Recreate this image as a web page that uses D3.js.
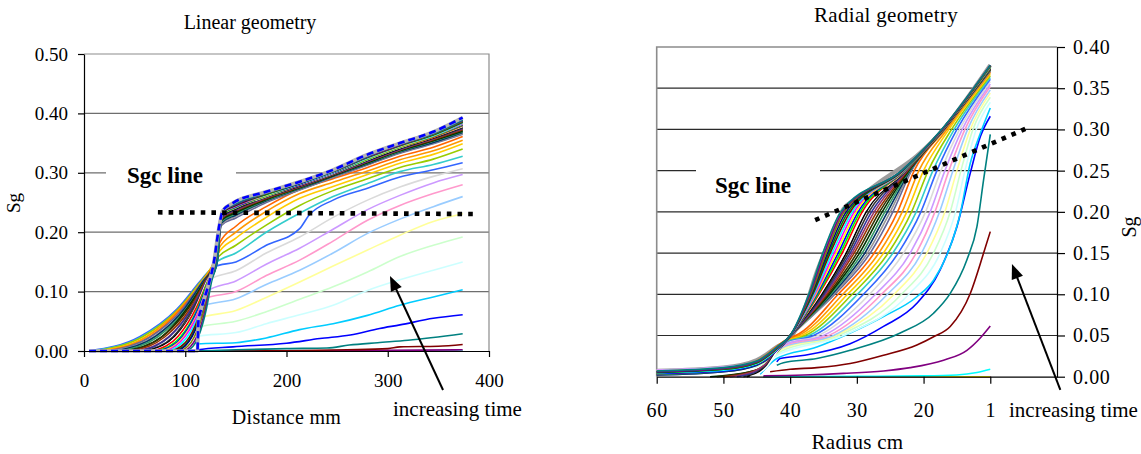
<!DOCTYPE html>
<html>
<head>
<meta charset="utf-8">
<script src="https://cdn.jsdelivr.net/npm/d3@7"></script>
<style>
  body { margin: 0; background: #fff; }
  svg { display: block; }
  svg text { font-family: 'Liberation Serif', 'Times New Roman', Tinos, 'DejaVu Serif', serif; fill: #000; }
</style>
</head>
<body>
<svg id="chart" width="1141" height="454"></svg>
<script>
// Automatic series colours, one per time step (series 1 first)
const seriesColors = ["#000080","#FF00FF","#FFFF00","#00FFFF","#800080","#800000","#008080","#0000FF",
  "#00CCFF","#CCFFFF","#CCFFCC","#FFFF99","#99CCFF","#FF99CC","#CC99FF","#DADADA",
  "#3366FF","#33CCCC","#99CC00","#FFCC00","#FF9900","#FF6600","#666699","#969696",
  "#003366","#339966","#003300","#333300","#993300","#993366","#333399","#333333",
  "#000000","#FFFFFF","#FF0000","#00FF00","#0000FF","#FFFF00","#FF00FF","#00FFFF",
  "#800000","#008000","#000080","#808000","#800080","#008080"];

// ---------- Linear geometry: Sg vs distance (mm), one [distance, Sg] list per time step ----------
const linearProfiles = [
  [[112,0],[374,0]],
  [[112,0],[374,0]],
  [[112,0],[374,0]],
  [[112,0],[374,0]],
  [[112,0],[250,0.0005],[300,0.001],[374,0.002]],
  [[112,0],[200,0.0005],[260,0.002],[300,0.004],[312,0.007],[350,0.008],[374,0.011]],
  [[112,0],[150,0.002],[200,0.004],[240,0.005],[262,0.010],[290,0.014],[320,0.018],[374,0.029]],
  [[112,0],[112.5,0.002],[147,0.007],[200,0.013],[233,0.021],[263,0.027],[292,0.038],[312,0.044],[345,0.055],[374,0.061]],
  [[112,0],[112.5,0.012],[150,0.014],[180,0.022],[213,0.036],[246,0.046],[280,0.060],[312,0.077],[345,0.091],[374,0.103]],
  [[112,0],[112.8,0.025],[150,0.031],[180,0.046],[213,0.061],[246,0.077],[280,0.102],[312,0.120],[345,0.136],[374,0.150]],
  [[112,0],[113,0.040],[150,0.050],[180,0.066],[213,0.087],[246,0.108],[280,0.133],[312,0.159],[345,0.178],[374,0.192]],
  [[112,0],[113.2,0.055],[150,0.068],[180,0.090],[213,0.116],[246,0.143],[280,0.170],[312,0.195],[345,0.218],[374,0.231]],
  [[112,0],[113,0.05],[116,0.075],[150,0.088],[180,0.112],[213,0.136],[246,0.165],[280,0.198],[312,0.222],[345,0.243],[374,0.260]],
  [[112,0],[113,0.05],[119,0.088],[150,0.100],[180,0.127],[213,0.153],[246,0.185],[280,0.220],[312,0.245],[345,0.265],[374,0.280]],
  [[112,0],[113,0.05],[121,0.100],[150,0.118],[180,0.146],[213,0.173],[246,0.205],[280,0.238],[312,0.262],[345,0.283],[374,0.297]],
  [[112,0],[113,0.05],[124,0.120],[150,0.135],[180,0.165],[213,0.192],[246,0.225],[280,0.254],[312,0.276],[345,0.294],[374,0.307]],
  [[5,0],[55,0.024],[92,0.071],[114,0.116],[122,0.132],[129,0.142],[150,0.150],[180,0.178],[213,0.206],[222,0.228],[246,0.254],[280,0.274],[312,0.293],[345,0.305],[374,0.317]],
  [[8,0],[56,0.023],[93,0.070],[115,0.115],[123,0.133],[130,0.148],[150,0.165],[180,0.200],[213,0.232],[246,0.260],[280,0.282],[312,0.302],[345,0.314],[374,0.328]],
  [[11,0],[58,0.024],[94,0.072],[115,0.116],[124,0.136],[131,0.155],[150,0.178],[180,0.212],[213,0.245],[246,0.270],[280,0.290],[312,0.309],[345,0.323],[374,0.340]],
  [[14,0],[60,0.023],[95,0.071],[115,0.114],[125,0.138],[132,0.163],[150,0.190],[180,0.225],[213,0.257],[246,0.277],[280,0.297],[312,0.316],[345,0.331],[374,0.349]],
  [[17,0],[62,0.024],[95,0.072],[116,0.115],[126,0.141],[133,0.172],[150,0.200],[180,0.235],[213,0.265],[246,0.284],[280,0.303],[312,0.322],[345,0.337],[374,0.355]],
  [[20,0],[64,0.023],[96,0.071],[116,0.114],[127,0.143],[134,0.182],[150,0.210],[180,0.243],[213,0.272],[246,0.290],[280,0.309],[312,0.328],[345,0.343],[374,0.361]],
  [[24,0],[66,0.024],[98,0.072],[116,0.115],[129,0.146],[136,0.212],[150,0.224],[180,0.250],[213,0.271],[246,0.292],[280,0.313],[312,0.333],[345,0.349],[374,0.365]],
  [[28,0],[68,0.023],[99,0.070],[117,0.114],[129,0.147],[136,0.214],[150,0.227],[180,0.252],[213,0.272],[246,0.293],[280,0.314],[312,0.334],[345,0.350],[374,0.366]],
  [[32,0],[71,0.025],[100,0.073],[117,0.116],[129,0.148],[136,0.216],[150,0.229],[180,0.253],[213,0.273],[246,0.294],[280,0.315],[312,0.335],[345,0.351],[374,0.368]],
  [[36,0],[73,0.024],[101,0.071],[118,0.115],[129.5,0.149],[136,0.218],[150,0.231],[180,0.254],[213,0.274],[246,0.295],[280,0.316],[312,0.336],[345,0.353],[374,0.369]],
  [[40,0],[76,0.023],[102,0.072],[118,0.114],[129.5,0.148],[136,0.220],[150,0.233],[180,0.255],[213,0.275],[246,0.295],[280,0.317],[312,0.337],[345,0.354],[374,0.370]],
  [[44,0],[78,0.025],[104,0.074],[119,0.117],[129.5,0.150],[136,0.222],[150,0.235],[180,0.256],[213,0.276],[246,0.296],[280,0.318],[312,0.338],[345,0.355],[374,0.372]],
  [[48,0],[80,0.024],[105,0.072],[119,0.115],[130,0.150],[136,0.223],[150,0.236],[180,0.257],[213,0.276],[246,0.297],[280,0.319],[312,0.339],[345,0.356],[374,0.373]],
  [[52,0],[83,0.023],[106,0.071],[120,0.116],[130,0.151],[136,0.224],[150,0.237],[180,0.258],[213,0.277],[246,0.297],[280,0.319],[312,0.339],[345,0.357],[374,0.374]],
  [[56,0],[85,0.025],[107,0.073],[120,0.115],[130,0.150],[136,0.225],[150,0.238],[180,0.259],[213,0.277],[246,0.298],[280,0.320],[312,0.340],[345,0.358],[374,0.375]],
  [[60,0],[88,0.024],[108,0.072],[121,0.117],[130,0.151],[136,0.226],[150,0.239],[180,0.259],[213,0.278],[246,0.298],[280,0.321],[312,0.341],[345,0.358],[374,0.376]],
  [[63,0],[89,0.023],[109,0.070],[121,0.115],[130.5,0.152],[136,0.227],[150,0.240],[180,0.260],[213,0.278],[246,0.299],[280,0.321],[312,0.341],[345,0.359],[374,0.377]],
  [[66,0],[91,0.024],[110,0.072],[121,0.116],[130.5,0.151],[136,0.228],[150,0.241],[180,0.260],[213,0.279],[246,0.299],[280,0.322],[312,0.342],[345,0.360],[374,0.378]],
  [[69,0],[93,0.025],[111,0.073],[122,0.117],[130.5,0.153],[136,0.229],[150,0.242],[180,0.261],[213,0.279],[246,0.300],[280,0.323],[312,0.343],[345,0.360],[374,0.379]],
  [[72,0],[95,0.023],[112,0.071],[122,0.116],[131,0.152],[136,0.229],[150,0.242],[180,0.261],[213,0.280],[246,0.300],[280,0.323],[312,0.343],[345,0.361],[374,0.380]],
  [[75,0],[97,0.024],[113,0.072],[123,0.117],[131,0.153],[136,0.230],[150,0.243],[180,0.262],[213,0.280],[246,0.300],[280,0.324],[312,0.344],[345,0.362],[374,0.381]],
  [[78,0],[98,0.023],[114,0.071],[123,0.116],[131,0.154],[136,0.230],[150,0.244],[180,0.262],[213,0.281],[246,0.301],[280,0.324],[312,0.344],[345,0.362],[374,0.382]],
  [[81,0],[100,0.025],[115,0.073],[123,0.118],[131,0.153],[136,0.231],[150,0.244],[180,0.263],[213,0.281],[246,0.301],[280,0.325],[312,0.345],[345,0.363],[374,0.383]],
  [[84,0],[102,0.024],[116,0.072],[124,0.117],[131.5,0.154],[136,0.231],[150,0.245],[180,0.263],[213,0.281],[246,0.301],[280,0.325],[312,0.345],[345,0.363],[374,0.384]],
  [[87,0],[104,0.023],[116,0.070],[124,0.116],[131.5,0.155],[136,0.232],[150,0.245],[180,0.264],[213,0.282],[246,0.302],[280,0.326],[312,0.346],[345,0.364],[374,0.385]],
  [[90,0],[106,0.024],[117,0.071],[124,0.117],[131.5,0.154],[136,0.232],[150,0.246],[180,0.264],[213,0.282],[246,0.302],[280,0.326],[312,0.346],[345,0.364],[374,0.386]],
  [[93,0],[107,0.025],[118,0.073],[125,0.118],[132,0.155],[136,0.233],[150,0.246],[180,0.265],[213,0.282],[246,0.302],[280,0.327],[312,0.347],[345,0.365],[374,0.387]],
  [[96,0],[109,0.024],[119,0.072],[125,0.117],[132,0.156],[136,0.233],[150,0.247],[180,0.265],[213,0.283],[246,0.302],[280,0.327],[312,0.347],[345,0.365],[374,0.387]],
  [[99,0],[111,0.023],[120,0.071],[125,0.116],[132,0.155],[136,0.234],[150,0.247],[180,0.266],[213,0.283],[246,0.303],[280,0.327],[312,0.347],[345,0.366],[374,0.388]],
  [[102,0],[113,0.024],[121,0.072],[126,0.117],[132,0.156],[136,0.234],[150,0.248],[180,0.266],[213,0.283],[246,0.303],[280,0.328],[312,0.348],[345,0.366],[374,0.389]]
];
// Final (latest) profile, drawn dashed on top
const linearFinal = [[5,0],[112,0],[113,0.05],[116,0.072],[121,0.1],[128,0.147],[134,0.215],[137,0.236],[147,0.249],[180,0.268],[213,0.285],[246,0.305],[279,0.330],[312,0.350],[345,0.369],[374,0.393]];
const linearXTicks = [0, 100, 200, 300, 400];
const linearYTicks = [0, 0.1, 0.2, 0.3, 0.4, 0.5];
const linearGrid = [0.1, 0.2, 0.3, 0.4];
const linearSgc = [[73, 0.2335], [384, 0.2306]];
const linearArrow = [[354.6, -0.0657], [302.2, 0.1263]];

// ---------- Radial geometry: Sg vs radius (cm), one [radius, Sg] list per time step ----------
const radialProfiles = [
  [[44,0],[10,0]],
  [[44,0],[10,0]],
  [[44,0],[10,0]],
  [[44,0],[30,0.0005],[20,0.001],[15,0.002],[12,0.005],[10,0.009]],
  [[44,0.001],[38,0.002],[32,0.004],[26,0.007],[22,0.011],[17,0.020],[13.5,0.032],[11.5,0.047],[10,0.0615]],
  [[43,0.006],[40,0.009],[36,0.011],[31,0.016],[26,0.026],[21,0.0385],[18.5,0.0485],[16,0.061],[13,0.101],[11,0.150],[10,0.176]],
  [[42,0.014],[41,0.017],[36,0.022],[31,0.032],[23.5,0.053],[18.5,0.077],[16,0.101],[13.5,0.142],[12,0.182],[11,0.239],[10,0.294]],
  [[42,0.018],[41.5,0.022],[37.8,0.026],[31,0.040],[26,0.061],[21,0.089],[17.5,0.130],[15,0.182],[13,0.247],[11.5,0.291],[10,0.316]],
  [[44.5,0.003],[42,0.022],[36,0.036],[31,0.053],[26,0.073],[21,0.097],[18.5,0.117],[16,0.158],[14.5,0.198],[13,0.259],[11.5,0.295],[10,0.326]],
  [[60,0.006],[50,0.008],[45,0.012],[41.5,0.028],[32.0,0.05],[22.2,0.10],[17.5,0.15],[15.2,0.20],[13.8,0.25],[12.1,0.30],[10,0.333]],
  [[60,0.007],[50,0.009],[45,0.013],[41.3,0.031],[32.7,0.05],[23.3,0.10],[18.5,0.15],[16.0,0.20],[14.4,0.25],[12.6,0.30],[10,0.339]],
  [[60,0.007],[50,0.010],[45,0.014],[41.1,0.034],[33.1,0.05],[24.4,0.10],[19.5,0.15],[16.8,0.20],[15.0,0.25],[13.0,0.30],[10,0.344]],
  [[60,0.008],[50,0.011],[45,0.015],[41.0,0.036],[33.5,0.05],[25.4,0.10],[20.3,0.15],[17.6,0.20],[15.6,0.25],[13.4,0.30],[10,0.348]],
  [[60,0.008],[50,0.011],[45,0.016],[40.8,0.038],[34.2,0.05],[26.3,0.10],[21.1,0.15],[18.3,0.20],[16.2,0.25],[13.8,0.30],[10,0.352]],
  [[60,0.008],[50,0.012],[45,0.017],[40.6,0.040],[35.0,0.05],[27.2,0.10],[22.0,0.15],[19.0,0.20],[16.8,0.25],[14.2,0.30],[10,0.355]],
  [[60,0.007],[50,0.011],[45,0.017],[40.5,0.042],[35.8,0.05],[28.1,0.10],[23.0,0.15],[19.7,0.20],[17.4,0.25],[14.6,0.30],[10,0.358]],
  [[60,0.006],[50,0.010],[45,0.016],[40.4,0.043],[36.5,0.05],[29.0,0.10],[23.8,0.15],[20.4,0.20],[18.0,0.25],[15.0,0.30],[10,0.361]],
  [[60,0.005],[50,0.010],[45,0.017],[40.3,0.044],[37.2,0.05],[29.9,0.10],[24.6,0.15],[21.1,0.20],[18.6,0.25],[15.4,0.30],[10,0.363]],
  [[60,0.005],[50,0.009],[45,0.017],[40.2,0.045],[37.8,0.05],[30.7,0.10],[25.3,0.15],[21.8,0.20],[19.3,0.25],[15.8,0.30],[10,0.365]],
  [[60,0.004],[50,0.009],[45,0.018],[40.1,0.046],[38.3,0.05],[31.4,0.10],[26.0,0.15],[22.5,0.20],[20.0,0.25],[16.2,0.30],[10,0.367]],
  [[60,0.004],[50,0.008],[45,0.018],[40.0,0.047],[38.8,0.05],[32.1,0.10],[26.7,0.15],[23.2,0.20],[20.7,0.25],[16.5,0.30],[10,0.369]],
  [[60,0.003],[50,0.008],[45,0.019],[39.9,0.048],[39.2,0.05],[32.8,0.10],[27.4,0.15],[23.9,0.20],[21.4,0.25],[16.8,0.30],[10,0.370]],
  [[60,0.002],[50,0.006],[45,0.014],[42,0.030],[40,0.048],[33.3,0.10],[28.0,0.15],[24.6,0.20],[21.8,0.25],[16.9,0.30],[10,0.371]],
  [[60,0.003],[50,0.007],[45,0.015],[42,0.031],[40,0.048],[33.5,0.10],[28.4,0.15],[25.0,0.20],[21.9,0.25],[16.9,0.30],[10,0.371]],
  [[60,0.002],[50,0.006],[45,0.014],[42,0.030],[40,0.049],[33.7,0.10],[28.8,0.15],[25.4,0.20],[22.0,0.25],[16.95,0.30],[10,0.372]],
  [[60,0.003],[50,0.007],[45,0.015],[42,0.031],[40,0.049],[33.9,0.10],[29.2,0.15],[25.8,0.20],[22.1,0.25],[16.95,0.30],[10,0.372]],
  [[52,0],[46,0.006],[44,0.012],[42,0.030],[40,0.049],[34.1,0.10],[29.6,0.15],[26.2,0.20],[22.2,0.25],[17.0,0.30],[10,0.373]],
  [[51,0],[46,0.006],[44,0.012],[42,0.031],[40,0.049],[34.3,0.10],[30.0,0.15],[26.6,0.20],[22.3,0.25],[17.0,0.30],[10,0.373]],
  [[50,0],[46,0.005],[44,0.013],[42,0.031],[40,0.049],[34.5,0.10],[30.4,0.15],[27.0,0.20],[22.4,0.25],[17.0,0.30],[10,0.373]],
  [[49,0],[45.5,0.006],[44,0.013],[42,0.031],[40,0.049],[34.7,0.10],[30.7,0.15],[27.4,0.20],[22.5,0.25],[17.05,0.30],[10,0.374]],
  [[48,0],[45,0.006],[43.5,0.014],[42,0.032],[40,0.049],[34.9,0.10],[31.0,0.15],[27.8,0.20],[22.6,0.25],[17.05,0.30],[10,0.374]],
  [[47,0],[45,0.005],[43.5,0.014],[42,0.032],[40,0.050],[35.1,0.10],[31.3,0.15],[28.2,0.20],[22.65,0.25],[17.05,0.30],[10,0.374]],
  [[46.5,0],[45,0.004],[43.5,0.013],[42,0.031],[40,0.050],[35.3,0.10],[31.6,0.15],[28.6,0.20],[22.7,0.25],[17.1,0.30],[10,0.375]],
  [[46,0],[44.5,0.005],[43.5,0.012],[42,0.030],[40,0.050],[35.5,0.10],[31.9,0.15],[28.9,0.20],[22.75,0.25],[17.1,0.30],[10,0.375]],
  [[60,0.004],[50,0.008],[45,0.016],[42,0.032],[40,0.049],[35.7,0.10],[32.2,0.15],[29.2,0.20],[22.8,0.25],[17.1,0.30],[10,0.375]],
  [[60,0.005],[50,0.008],[45,0.016],[42,0.033],[40,0.049],[35.85,0.10],[32.5,0.15],[29.5,0.20],[22.85,0.25],[17.1,0.30],[10,0.375]],
  [[60,0.004],[50,0.007],[45,0.015],[42,0.032],[40,0.049],[36.0,0.10],[32.8,0.15],[29.8,0.20],[22.9,0.25],[17.15,0.30],[10,0.376]],
  [[60,0.005],[50,0.009],[45,0.016],[42,0.033],[40,0.050],[36.15,0.10],[33.1,0.15],[30.1,0.20],[22.95,0.25],[17.15,0.30],[10,0.376]],
  [[60,0.006],[50,0.009],[45,0.017],[42,0.034],[40,0.050],[36.3,0.10],[33.4,0.15],[30.4,0.20],[23.0,0.25],[17.15,0.30],[10,0.376]],
  [[60,0.005],[50,0.008],[45,0.016],[42,0.033],[40,0.050],[36.45,0.10],[33.7,0.15],[30.7,0.20],[23.05,0.25],[17.2,0.30],[10,0.376]],
  [[60,0.006],[50,0.009],[45,0.017],[42,0.034],[40,0.050],[36.6,0.10],[34.0,0.15],[31.0,0.20],[23.1,0.25],[17.2,0.30],[10,0.377]],
  [[60,0.005],[50,0.009],[45,0.017],[42,0.034],[40,0.050],[36.7,0.10],[34.2,0.15],[31.3,0.20],[23.15,0.25],[17.2,0.30],[10,0.377]],
  [[60,0.006],[50,0.010],[45,0.018],[42,0.035],[40,0.050],[36.8,0.10],[34.4,0.15],[31.6,0.20],[23.2,0.25],[17.2,0.30],[10,0.377]],
  [[60,0.007],[50,0.010],[45,0.018],[42,0.035],[40,0.050],[36.9,0.10],[34.6,0.15],[31.9,0.20],[23.25,0.25],[17.25,0.30],[10,0.377]],
  [[60,0.006],[50,0.010],[45,0.018],[42,0.035],[40,0.050],[37.05,0.10],[34.85,0.15],[32.15,0.20],[23.3,0.25],[17.25,0.30],[10,0.378]],
  [[60,0.007],[50,0.011],[45,0.019],[42,0.036],[40,0.050],[37.2,0.10],[35.1,0.15],[32.4,0.20],[23.3,0.25],[17.3,0.30],[10,0.378]]
];
// Outer envelope of the latest profiles (grey halo)
const radialEnvelope = [[60,0.007],[50,0.011],[45,0.02],[42,0.036],[40,0.0465],[38,0.078],[36,0.127],[34,0.167],[32,0.2035],[30,0.2155],[26,0.2395],[21,0.268],[17,0.300],[14,0.332],[10,0.378]];
const radialXTicks = [60, 50, 40, 30, 20, 10];
const radialXTickLabels = ["60", "50", "40", "30", "20", "1"];
const radialYTicks = [0, 0.05, 0.10, 0.15, 0.20, 0.25, 0.30, 0.35, 0.40];
const radialGrid = [0.05, 0.10, 0.15, 0.20, 0.25, 0.30, 0.35];
const radialSgc = [[36.25, 0.190], [4.75, 0.3006]];
const radialArrow = [[-0.5, -0.0161], [6.75, 0.1368]];

// ---------- drawing ----------
const svg = d3.select("#chart");
svg.append("rect").attr("width", 1141).attr("height", 454).attr("fill", "#fff");

const FONT = "'Liberation Serif', 'Times New Roman', Tinos, 'DejaVu Serif', serif";

function drawArrow(g, x, y, pts) {
  const [x1, y1] = [x(pts[0][0]), y(pts[0][1])];
  const [x2, y2] = [x(pts[1][0]), y(pts[1][1])];
  const len = Math.hypot(x2 - x1, y2 - y1);
  const ux = (x2 - x1) / len, uy = (y2 - y1) / len;
  const hl = 15, hw = 6;
  const bx = x2 - ux * hl, by = y2 - uy * hl;
  g.append("line").attr("x1", x1).attr("y1", y1).attr("x2", bx + ux * 2).attr("y2", by + uy * 2)
    .attr("stroke", "#000").attr("stroke-width", 2);
  g.append("path")
    .attr("d", `M${x2},${y2}L${bx - uy * hw},${by + ux * hw}L${bx + uy * hw},${by - ux * hw}Z`)
    .attr("fill", "#000");
}

function styleAxis(g, size, spacing) {
  g.attr("font-family", null).attr("font-size", size);
  g.selectAll("text").attr("fill", "#000").style("font-family", FONT).attr("letter-spacing", spacing || 0);
  g.select(".domain").attr("stroke", "#000").attr("stroke-width", 1.2);
  g.selectAll(".tick line").attr("stroke", "#000").attr("stroke-width", 1.2);
}

function label(g, x, y, size, str) {
  return g.append("text").attr("x", x).attr("y", y).attr("font-size", size)
    .style("font-family", FONT).text(str);
}

// ===== Linear geometry panel =====
{
  const x = d3.scaleLinear().domain([0, 400]).range([84, 489]);
  const y = d3.scaleLinear().domain([0, 0.5]).range([351, 54]);
  const g = svg.append("g");

  // grid + frame
  g.selectAll(".grid").data(linearGrid).join("line")
    .attr("x1", x(0)).attr("x2", x(400)).attr("y1", d => y(d)).attr("y2", d => y(d))
    .attr("stroke", "#6e6e6e").attr("stroke-width", 1.2);
  g.append("path").attr("d", `M${x(0)},${y(0.5)}H${x(400)}V${y(0)}`)
    .attr("fill", "none").attr("stroke", "#8c8c8c").attr("stroke-width", 1.2);

  // label box that interrupts the grid line
  g.append("rect").attr("x", 106).attr("y", 160).attr("width", 130).attr("height", 30).attr("fill", "#fff");

  const line = d3.line().x(d => x(d[0])).y(d => y(d[1])).curve(d3.curveMonotoneX);
  g.selectAll(".series").data(linearProfiles).join("path")
    .attr("d", line).attr("fill", "none")
    .attr("stroke", (d, i) => seriesColors[i % seriesColors.length])
    .attr("stroke-width", 1.6).attr("stroke-linejoin", "round");

  g.append("path").attr("d", line(linearFinal)).attr("fill", "none")
    .attr("stroke", "#b4b4b4").attr("stroke-width", 3.6);
  g.append("path").attr("d", line(linearFinal)).attr("fill", "none")
    .attr("stroke", "#0000FF").attr("stroke-width", 2.6).attr("stroke-dasharray", "7,4");

  // axes
  const ax = g.append("g").attr("transform", `translate(0,${y(0)})`)
    .call(d3.axisBottom(x).tickValues(linearXTicks).tickSize(6).tickSizeOuter(0).tickPadding(17));
  styleAxis(ax, 19);
  const ay = g.append("g").attr("transform", `translate(${x(0)},0)`)
    .call(d3.axisLeft(y).tickValues(linearYTicks).tickFormat(d3.format(".2f")).tickSize(6).tickSizeOuter(0).tickPadding(10));
  styleAxis(ay, 19);

  // Sgc line
  g.append("line")
    .attr("x1", x(linearSgc[0][0])).attr("y1", y(linearSgc[0][1]))
    .attr("x2", x(linearSgc[1][0])).attr("y2", y(linearSgc[1][1]))
    .attr("stroke", "#000").attr("stroke-width", 4.6).attr("stroke-dasharray", "4.6,6.1");

  drawArrow(g, x, y, linearArrow);

  // texts
  label(g, 250, 28.5, 20, "Linear geometry").attr("text-anchor", "middle");
  label(g, 286.5, 424, 20, "Distance mm").attr("text-anchor", "middle").attr("letter-spacing", 0.3);
  label(g, 0, 0, 19, "Sg").attr("text-anchor", "middle").attr("transform", "translate(19.5,203) rotate(-90)");
  label(g, 127, 183, 23, "Sgc line").attr("font-weight", "bold");
  label(g, 393, 415.5, 21, "increasing time");
}

// ===== Radial geometry panel =====
{
  const x = d3.scaleLinear().domain([60, 0]).range([656.7, 1057]);
  const y = d3.scaleLinear().domain([0, 0.4]).range([376.7, 47]);
  const g = svg.append("g");

  g.selectAll(".grid").data(radialGrid).join("line")
    .attr("x1", x(60)).attr("x2", x(0)).attr("y1", d => y(d)).attr("y2", d => y(d))
    .attr("stroke", "#2a2a2a").attr("stroke-width", 1.2);
  g.append("path").attr("d", `M${x(60)},${y(0)}V${y(0.4)}H${x(0)}`)
    .attr("fill", "none").attr("stroke", "#8c8c8c").attr("stroke-width", 1.6);

  g.append("rect").attr("x", 696).attr("y", 160).attr("width", 124).attr("height", 40).attr("fill", "#fff");

  const line = d3.line().x(d => x(d[0])).y(d => y(d[1])).curve(d3.curveMonotoneX);
  g.append("path").attr("d", line(radialEnvelope)).attr("fill", "none")
    .attr("stroke", "#9c9c9c").attr("stroke-width", 4.2).attr("stroke-linejoin", "round");
  g.selectAll(".series").data(radialProfiles).join("path")
    .attr("d", line).attr("fill", "none")
    .attr("stroke", (d, i) => seriesColors[i % seriesColors.length])
    .attr("stroke-width", 1.6).attr("stroke-linejoin", "round");

  const ax = g.append("g").attr("transform", `translate(0,${y(0)})`)
    .call(d3.axisBottom(x).tickValues(radialXTicks)
      .tickFormat((d, i) => radialXTickLabels[i]).tickSize(7).tickSizeOuter(0).tickPadding(19));
  styleAxis(ax, 20, 0.6);
  const ay = g.append("g").attr("transform", `translate(${x(0)},0)`)
    .call(d3.axisRight(y).tickValues(radialYTicks).tickFormat(d3.format(".2f")).tickSize(8).tickSizeOuter(0).tickPadding(8));
  styleAxis(ay, 20, 0.6);

  g.append("line")
    .attr("x1", x(radialSgc[0][0])).attr("y1", y(radialSgc[0][1]))
    .attr("x2", x(radialSgc[1][0])).attr("y2", y(radialSgc[1][1]))
    .attr("stroke", "#000").attr("stroke-width", 4.6).attr("stroke-dasharray", "4.6,6.1");

  drawArrow(g, x, y, radialArrow);

  label(g, 886, 22, 21, "Radial geometry").attr("text-anchor", "middle").attr("letter-spacing", 0.3);
  label(g, 857.5, 449, 21, "Radius cm").attr("text-anchor", "middle").attr("letter-spacing", 0.3);
  label(g, 0, 0, 20, "Sg").attr("text-anchor", "middle").attr("transform", "translate(1136,227) rotate(-90)");
  label(g, 715, 193, 23, "Sgc line").attr("font-weight", "bold");
  label(g, 1009, 417, 21, "increasing time");
}
</script>
</body>
</html>
